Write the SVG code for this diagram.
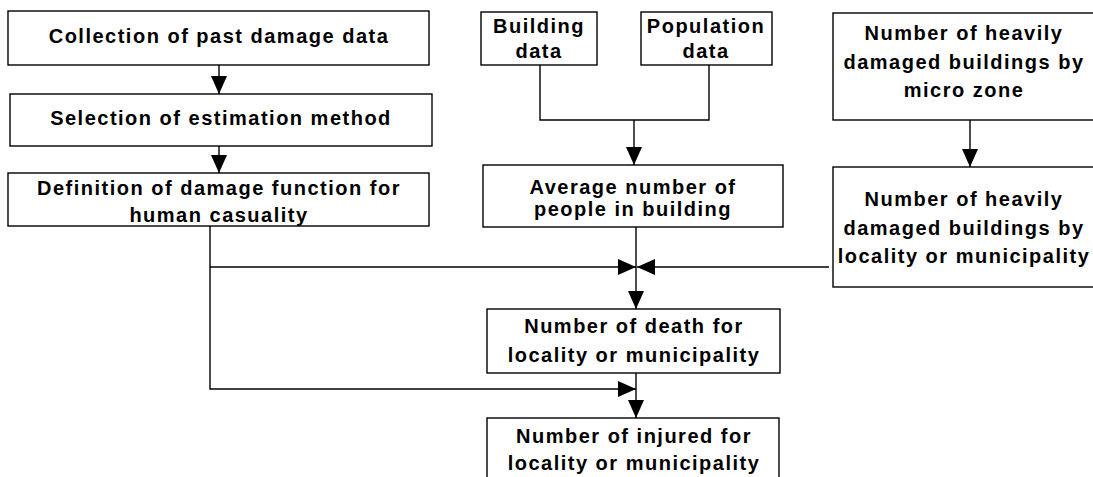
<svg xmlns="http://www.w3.org/2000/svg" width="1093" height="477" viewBox="0 0 1093 477">
<style>
.box{fill:#fff;stroke:#000;stroke-width:1.4}
.t{font-family:"Liberation Sans",Arial,sans-serif;font-weight:bold;font-size:20px;letter-spacing:1.5px;fill:#000;text-anchor:middle}
.c{fill:none;stroke:#000;stroke-width:1.4}
</style>
<defs>
<marker id="ah" viewBox="0 0 18 16" refX="18" refY="8" markerWidth="18" markerHeight="16" markerUnits="userSpaceOnUse" orient="auto">
<path d="M0,0 L18,8 L0,16 Z" fill="#000"/>
</marker>
</defs>
<rect width="1093" height="477" fill="#fff"/>
<g id="collection"><rect class="box" x="8" y="11" width="421" height="54"/><text class="t" x="219" y="43">Collection of past damage data</text></g>
<g id="selection"><rect class="box" x="10" y="94" width="422" height="52"/><text class="t" x="221" y="125">Selection of estimation method</text></g>
<g id="definition"><rect class="box" x="8" y="173" width="421" height="53"/><text class="t" x="219" y="195">Definition of damage function for</text><text class="t" x="219" y="222">human casuality</text></g>
<g id="building"><rect class="box" x="481" y="12" width="116" height="53"/><text class="t" x="539" y="33">Building</text><text class="t" x="539" y="58">data</text></g>
<g id="population"><rect class="box" x="641" y="12" width="131" height="53"/><text class="t" x="706" y="33">Population</text><text class="t" x="706" y="58">data</text></g>
<g id="average"><rect class="box" x="483" y="165" width="300" height="62"/><text class="t" x="633" y="194">Average number of</text><text class="t" x="633" y="216">people in building</text></g>
<g id="microzone"><rect class="box" x="833" y="13" width="263" height="107"/><text class="t" x="964" y="40">Number of heavily</text><text class="t" x="964" y="69">damaged buildings by</text><text class="t" x="964" y="97">micro zone</text></g>
<g id="locality"><rect class="box" x="833" y="167" width="263" height="120"/><text class="t" x="964" y="206">Number of heavily</text><text class="t" x="964" y="235">damaged buildings by</text><text class="t" x="964" y="263">locality or municipality</text></g>
<g id="death"><rect class="box" x="487" y="309" width="293" height="64"/><text class="t" x="634" y="333">Number of death for</text><text class="t" x="634" y="362">locality or municipality</text></g>
<g id="injured"><rect class="box" x="487" y="418" width="292" height="62"/><text class="t" x="634" y="443">Number of injured for</text><text class="t" x="634" y="470">locality or municipality</text></g>
<g id="connectors">
<line class="c" x1="219" y1="65" x2="219" y2="94" marker-end="url(#ah)"/>
<line class="c" x1="219" y1="146" x2="219" y2="173" marker-end="url(#ah)"/>
<polyline class="c" points="540,65 540,120 709,120 709,65"/>
<line class="c" x1="634" y1="120" x2="634" y2="165" marker-end="url(#ah)"/>
<line class="c" x1="970" y1="120" x2="970" y2="167" marker-end="url(#ah)"/>
<line class="c" x1="636" y1="227" x2="636" y2="309" marker-end="url(#ah)"/>
<polyline class="c" points="210,226 210,389 636,389" marker-end="url(#ah)"/>
<line class="c" x1="210" y1="267" x2="636" y2="267" marker-end="url(#ah)"/>
<line class="c" x1="829" y1="267" x2="637" y2="267" marker-end="url(#ah)"/>
<line class="c" x1="636" y1="373" x2="636" y2="418" marker-end="url(#ah)"/>
</g>
</svg>
